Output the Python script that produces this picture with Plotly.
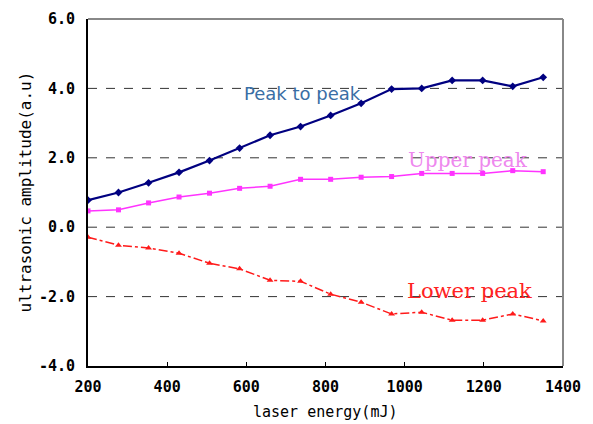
import plotly.graph_objects as go

energy = [200, 277, 353, 430, 507, 583, 660, 737, 813, 890, 967, 1043, 1120, 1197, 1273, 1350]
peak_to_peak = [0.78, 1.0, 1.28, 1.58, 1.92, 2.28, 2.65, 2.9, 3.22, 3.57, 3.98, 4.0, 4.23, 4.23, 4.06, 4.32]
upper_peak = [0.47, 0.5, 0.7, 0.87, 0.98, 1.12, 1.18, 1.38, 1.38, 1.44, 1.46, 1.55, 1.55, 1.55, 1.63, 1.6]
lower_peak = [-0.29, -0.52, -0.6, -0.75, -1.04, -1.2, -1.53, -1.56, -1.93, -2.16, -2.5, -2.45, -2.68, -2.68, -2.5, -2.7]

x_ticks = [200, 400, 600, 800, 1000, 1200, 1400]
y_ticks = [-4, -2, 0, 2, 4, 6]
y_labels = ["-4.0", "-2.0", "0.0", "2.0", "4.0", "6.0"]

fig = go.Figure()
fig.add_trace(go.Scatter(x=energy, y=peak_to_peak, mode="lines+markers",
                         line=dict(color="#000080", width=2.2),
                         marker=dict(symbol="diamond", size=6, color="#000080"),
                         showlegend=False))
fig.add_trace(go.Scatter(x=energy, y=upper_peak, mode="lines+markers",
                         line=dict(color="#ff33ff", width=1.5),
                         marker=dict(symbol="square", size=5, color="#ff33ff"),
                         showlegend=False))
fig.add_trace(go.Scatter(x=energy, y=lower_peak, mode="lines+markers",
                         line=dict(color="#ff1a1a", width=1.5, dash="dashdot"),
                         marker=dict(symbol="triangle-up", size=6, color="#ff1a1a"),
                         showlegend=False))

# dashed horizontal gridlines
for yv in [4, 2, 0, -2]:
    fig.add_shape(type="line", xref="paper", yref="y", x0=0, x1=1, y0=yv, y1=yv,
                  line=dict(color="#333333", width=1, dash="dash"), layer="below")

fig.add_annotation(x=743, y=3.86, text="Peak to peak", showarrow=False,
                   font=dict(family="DejaVu Sans", size=18, color="#3a6ea5"))
fig.add_annotation(x=1160, y=1.93, text="Upper peak", showarrow=False,
                   font=dict(family="DejaVu Serif", size=20, color="#ee88ee"))
fig.add_annotation(x=1165, y=-1.84, text="Lower peak", showarrow=False,
                   font=dict(family="DejaVu Serif", size=21, color="#ff2222"))

# axis titles
fig.add_annotation(xref="paper", yref="paper", x=0.499, y=0, yanchor="middle",
                   yshift=-46, text="laser energy(mJ)", showarrow=False,
                   font=dict(family="DejaVu Sans Mono", size=15, color="#000"))
fig.add_annotation(xref="paper", yref="paper", x=0, y=0.5, xanchor="center",
                   xshift=-63, textangle=-90, text="ultrasonic amplitude(a.u)",
                   showarrow=False,
                   font=dict(family="DejaVu Sans Mono", size=16, color="#000"))

tickfont = dict(family="DejaVu Sans Mono", size=15, color="#000000", weight="bold")
fig.update_layout(
    width=593, height=424,
    margin=dict(l=88, r=30, t=19, b=58, autoexpand=False),
    paper_bgcolor="white", plot_bgcolor="white",
    xaxis=dict(range=[200, 1400], tickvals=x_ticks, ticktext=[str(v) for v in x_ticks],
               showgrid=False, zeroline=False, ticks="inside", ticklen=4,
               tickcolor="#000", showline=True, linecolor="#000", linewidth=2,
               mirror=False, tickfont=tickfont, ticklabelstandoff=6,
               automargin=False),
    yaxis=dict(range=[-4, 6], tickvals=y_ticks, ticktext=y_labels,
               showgrid=False, zeroline=False, ticks="",
               showline=True, linecolor="#000", linewidth=2, mirror=False,
               tickfont=tickfont, ticklabelstandoff=8, automargin=False),
)
# gray top/right frame
fig.add_shape(type="line", xref="paper", yref="paper", x0=0, x1=1, y0=1, y1=1,
              line=dict(color="#888888", width=2))
fig.add_shape(type="line", xref="paper", yref="paper", x0=1, x1=1, y0=0, y1=1,
              line=dict(color="#888888", width=2))

fig.write_html("out.html")
